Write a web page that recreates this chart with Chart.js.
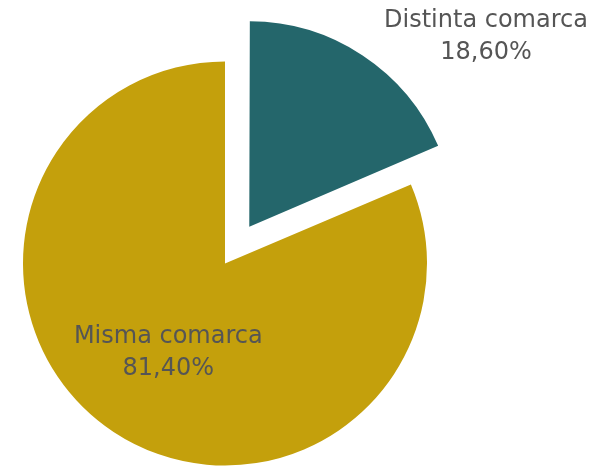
<!DOCTYPE html>
<html>
<head>
<meta charset="utf-8">
<script src="https://cdn.jsdelivr.net/npm/chart.js@4.4.1/dist/chart.umd.min.js"></script>
<style>
  html, body { margin: 0; padding: 0; background: #ffffff; }
  #wrap { width: 601px; height: 467px; position: relative; }
</style>
</head>
<body>
<div id="wrap"><canvas id="chart" width="601" height="467"></canvas></div>
<script>
// Datos del gráfico
const categorias = ['Distinta comarca', 'Misma comarca'];
const porcentajes = [18.6, 81.4];
const colores = ['#24666b', '#c4a00c'];
const desplazamientos = [176, 0];

// Etiquetas dentro / fuera de las porciones
const etiquetasPlugin = {
    id: 'etiquetas',
    afterDatasetsDraw(chart) {
        const ctx = chart.ctx;
        const arcs = chart.getDatasetMeta(0).data;
        ctx.save();
        ctx.font = '24px "DejaVu Sans", Verdana, sans-serif';
        ctx.fillStyle = '#555555';
        ctx.textAlign = 'center';
        ctx.textBaseline = 'middle';
        arcs.forEach((arc, i) => {
            const texto = porcentajes[i].toFixed(2).replace('.', ',') + '%';
            let x, y;
            if (i === 0) {
                // etiqueta fuera, arriba a la derecha
                x = arc.x + 261;
                y = arc.y - 227;
            } else {
                const p = arc.tooltipPosition();
                x = p.x - 1;
                y = p.y + 5;
            }
            ctx.fillText(categorias[i], x, y - 16);
            ctx.fillText(texto, x, y + 16);
        });
        ctx.restore();
    }
};

new Chart(document.getElementById('chart'), {
    type: 'pie',
    data: {
        labels: categorias,
        datasets: [{
            data: porcentajes,
            backgroundColor: colores,
            borderWidth: 0,
            offset: desplazamientos,
            radius: 202
        }]
    },
    options: {
        responsive: false,
        animation: false,
        layout: { padding: { left: 0, right: 151, top: 60, bottom: 0 } },
        plugins: {
            legend: { display: false },
            tooltip: { enabled: false }
        }
    },
    plugins: [etiquetasPlugin]
});
</script>
</body>
</html>
